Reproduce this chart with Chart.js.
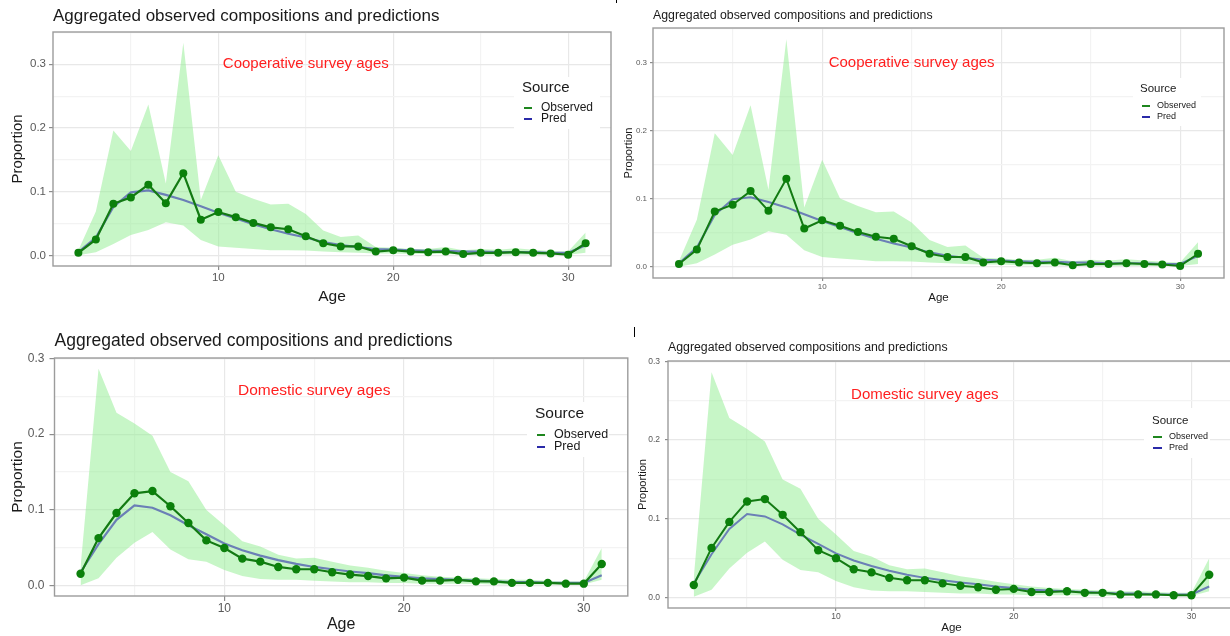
<!DOCTYPE html>
<html>
<head>
<meta charset="utf-8">
<title>Aggregated observed compositions and predictions</title>
<script src="https://cdn.jsdelivr.net/npm/chart.js@4.4.1/dist/chart.umd.min.js"></script>
<style>
  html, body { margin: 0; padding: 0; background: #fff; overflow: hidden; }
  body { position: relative; width: 1230px; height: 636px; }
  canvas { position: absolute; }
  .mark { position: absolute; width: 1px; background: #000; }
</style>
</head>
<body>
<canvas id="coopWide" style="left:0;top:0" width="615" height="318"></canvas>
<canvas id="coopSmall" style="left:615px;top:0" width="615" height="318"></canvas>
<canvas id="domWide" style="left:0;top:318px" width="632" height="318"></canvas>
<canvas id="domSmall" style="left:632px;top:318px" width="610" height="318"></canvas>
<div class="mark" style="left:616px;top:0;height:3px"></div>
<div class="mark" style="left:634px;top:327px;height:10px"></div>
<script>
// ages 2..31, proportions at age
const ages = [2, 3, 4, 5, 6, 7, 8, 9, 10, 11, 12, 13, 14, 15, 16, 17, 18, 19, 20, 21, 22, 23, 24, 25, 26, 27, 28, 29, 30, 31];

const coopObserved = [0.004, 0.025, 0.081, 0.091, 0.111, 0.082, 0.129, 0.056, 0.068, 0.060, 0.051, 0.044, 0.041, 0.030, 0.019, 0.014, 0.014, 0.006, 0.008, 0.006, 0.005, 0.006, 0.002, 0.004, 0.004, 0.005, 0.004, 0.003, 0.001, 0.019];
const coopPred = [0.005, 0.028, 0.076, 0.099, 0.102, 0.095, 0.087, 0.077, 0.067, 0.058, 0.049, 0.041, 0.034, 0.028, 0.021, 0.016, 0.013, 0.010, 0.009, 0.008, 0.007, 0.007, 0.006, 0.006, 0.005, 0.005, 0.005, 0.004, 0.004, 0.016];
const coopLower = [0.000, 0.005, 0.018, 0.032, 0.040, 0.052, 0.047, 0.024, 0.014, 0.012, 0.010, 0.008, 0.008, 0.0075, 0.006, 0.005, 0.004, 0.003, 0.003, 0.002, 0.002, 0.002, 0.001, 0.001, 0.001, 0.001, 0.001, 0.001, 0.001, 0.004];
const coopUpper = [0.008, 0.069, 0.196, 0.164, 0.237, 0.113, 0.334, 0.087, 0.157, 0.100, 0.089, 0.080, 0.081, 0.065, 0.039, 0.029, 0.031, 0.013, 0.012, 0.010, 0.010, 0.013, 0.008, 0.010, 0.009, 0.011, 0.009, 0.007, 0.006, 0.036];

const domObserved = [0.016, 0.063, 0.096, 0.122, 0.125, 0.105, 0.083, 0.060, 0.050, 0.036, 0.032, 0.025, 0.022, 0.022, 0.018, 0.015, 0.013, 0.010, 0.011, 0.007, 0.007, 0.008, 0.006, 0.006, 0.004, 0.004, 0.004, 0.003, 0.003, 0.029];
const domPred = [0.018, 0.055, 0.087, 0.106, 0.103, 0.093, 0.080, 0.068, 0.056, 0.047, 0.040, 0.034, 0.029, 0.025, 0.022, 0.019, 0.017, 0.014, 0.012, 0.010, 0.009, 0.008, 0.007, 0.006, 0.005, 0.005, 0.004, 0.004, 0.004, 0.014];
const domLower = [0.001, 0.010, 0.037, 0.057, 0.071, 0.048, 0.035, 0.032, 0.021, 0.013, 0.009, 0.008, 0.008, 0.007, 0.006, 0.005, 0.005, 0.004, 0.004, 0.003, 0.003, 0.003, 0.003, 0.002, 0.002, 0.002, 0.002, 0.002, 0.002, 0.008];
const domUpper = [0.025, 0.286, 0.228, 0.214, 0.198, 0.150, 0.138, 0.100, 0.080, 0.059, 0.052, 0.041, 0.036, 0.037, 0.032, 0.027, 0.024, 0.020, 0.017, 0.014, 0.012, 0.011, 0.010, 0.009, 0.008, 0.008, 0.007, 0.006, 0.006, 0.050];

// axis breaks
const ageMajor = [10, 20, 30];
const ageMinor = [5, 15, 25];
const propMajor = [0, 0.1, 0.2, 0.3];
const propMinor = [0.05, 0.15, 0.25, 0.35];

const TITLE = 'Aggregated observed compositions and predictions';
const FONT = "'Liberation Sans', Arial, sans-serif";
const OBS_LINE = '#137a13', OBS_PT = '#0b800b', PRED_LINE = '#6b7fb6';
const RIBBON = 'rgba(144,238,144,0.5)';

Chart.defaults.font.family = FONT;

// ggplot-style 5% expansion
function expand(lo, hi) { const d = (hi - lo) * 0.05; return [lo - d, hi + d]; }
const near = (list, v) => list.some(t => Math.abs(t - v) < 1e-9);
const pts = ys => ages.map((a, i) => ({ x: a, y: ys[i] }));

// titles, annotation, legend and panel border
const panelDecor = {
  id: 'panelDecor',
  afterDraw(chart, args, o) {
    const ctx = chart.ctx, a = chart.chartArea;
    const xs = chart.scales.x, ys = chart.scales.y;
    ctx.save();
    ctx.textBaseline = 'middle';

    ctx.fillStyle = '#ff1f1f';
    ctx.textAlign = 'center';
    ctx.font = o.noteSize + 'px ' + FONT;
    ctx.fillText(o.note, xs.getPixelForValue(o.noteAt[0]), ys.getPixelForValue(o.noteAt[1]));

    const L = o.legend;
    ctx.fillStyle = '#fff';
    ctx.fillRect(L.box[0], L.box[1], L.box[2], L.box[3]);
    ctx.fillStyle = '#1a1a1a';
    ctx.textAlign = 'left';
    ctx.font = L.titleSize + 'px ' + FONT;
    ctx.fillText('Source', L.x, L.y);
    ctx.font = L.itemSize + 'px ' + FONT;
    [['Observed', '#1e861e'], ['Pred', '#2a2aa8']].forEach(([name, col], i) => {
      ctx.strokeStyle = col;
      ctx.lineWidth = 2;
      ctx.beginPath();
      ctx.moveTo(L.keyX, L.rows[i]);
      ctx.lineTo(L.keyX + L.keyW, L.rows[i]);
      ctx.stroke();
      ctx.fillText(name, L.textX, L.rows[i]);
    });

    ctx.strokeStyle = '#9c9c9c';
    ctx.lineWidth = 1.4;
    ctx.strokeRect(a.left, a.top, a.right - a.left, a.bottom - a.top);

    ctx.fillStyle = '#1a1a1a';
    ctx.font = o.titleSize + 'px ' + FONT;
    ctx.fillText(TITLE, a.left, o.titleY);

    ctx.textAlign = 'center';
    ctx.font = o.xTitleSize + 'px ' + FONT;
    ctx.fillText('Age', (a.left + a.right) / 2, o.xTitleY);
    ctx.translate(o.yTitleX, (a.top + a.bottom) / 2);
    ctx.rotate(-Math.PI / 2);
    ctx.font = o.yTitleSize + 'px ' + FONT;
    ctx.fillText('Proportion', 0, 0);
    ctx.restore();
  }
};

function createPanel(id, obs, pred, lower, upper, c) {
  const el = document.getElementById(id);
  if (!el) return;
  const xr = expand(Math.min(...ages), Math.max(...ages));
  const yr = expand(Math.min(...lower), Math.max(...upper));
  const xBreaks = ageMinor.concat(ageMajor).filter(v => v > xr[0] && v < xr[1]).sort((p, q) => p - q);
  const yBreaks = propMinor.concat(propMajor).filter(v => v >= yr[0] && v <= yr[1]).sort((p, q) => p - q);

  new Chart(el.getContext('2d'), {
    type: 'line',
    data: {
      datasets: [
        { label: 'Observed', data: pts(obs), borderColor: OBS_LINE, borderWidth: c.lw, pointRadius: c.pr, pointBorderWidth: 0, pointBackgroundColor: OBS_PT, fill: false },
        { label: 'Pred', data: pts(pred), borderColor: PRED_LINE, borderWidth: c.lw, pointRadius: 0, fill: false },
        { label: 'upper', data: pts(upper), borderColor: 'rgba(0,0,0,0)', borderWidth: 0, pointRadius: 0, backgroundColor: RIBBON, fill: '+1' },
        { label: 'lower', data: pts(lower), borderColor: 'rgba(0,0,0,0)', borderWidth: 0, pointRadius: 0, fill: false }
      ]
    },
    options: {
      responsive: false,
      animation: false,
      devicePixelRatio: 1,
      events: [],
      layout: { padding: { top: c.top, right: c.right, left: 0, bottom: 0 } },
      scales: {
        x: {
          type: 'linear', min: xr[0], max: xr[1],
          afterBuildTicks: s => { s.ticks = xBreaks.map(v => ({ value: v })); },
          afterFit: s => { s.height = c.xAxisH; s.paddingLeft = 0; s.paddingRight = 0; },
          border: { display: false },
          grid: {
            color: g => g.tick && near(ageMajor, g.tick.value) ? '#e8e8e8' : '#f3f3f3',
            lineWidth: 1.2,
            tickLength: c.tl,
            tickColor: g => g.tick && near(ageMajor, g.tick.value) ? '#8c8c8c' : 'rgba(0,0,0,0)'
          },
          ticks: { autoSkip: false, maxRotation: 0, padding: c.xPad, color: '#595959', font: { size: c.tick },
            callback: v => near(ageMajor, v) ? String(v) : '' }
        },
        y: {
          type: 'linear', min: yr[0], max: yr[1],
          afterBuildTicks: s => { s.ticks = yBreaks.map(v => ({ value: v })); },
          afterFit: s => { s.width = c.yAxisW; s.paddingTop = 0; s.paddingBottom = 0; },
          border: { display: false },
          grid: {
            color: g => g.tick && near(propMajor, g.tick.value) ? '#e8e8e8' : '#f3f3f3',
            lineWidth: 1.2,
            tickLength: c.tl,
            tickColor: g => g.tick && near(propMajor, g.tick.value) ? '#8c8c8c' : 'rgba(0,0,0,0)'
          },
          ticks: { autoSkip: false, padding: c.yPad, color: '#595959', font: { size: c.tick },
            callback: v => near(propMajor, v) ? v.toFixed(1) : '' }
        }
      },
      plugins: {
        legend: { display: false },
        tooltip: { enabled: false },
        title: { display: false },
        panelDecor: c.decor
      }
    },
    plugins: [panelDecor]
  });
}

// Cooperative survey, large text
createPanel('coopWide', coopObserved, coopPred, coopLower, coopUpper, {
  top: 32, right: 2, yAxisW: 53, xAxisH: 52, tick: 11.5, tl: 4, xPad: 1, yPad: 3, lw: 2.2, pr: 4,
  decor: {
    titleSize: 17, titleY: 16, note: 'Cooperative survey ages', noteSize: 15, noteAt: [15, 0.3],
    xTitleSize: 15.5, xTitleY: 297, yTitleSize: 15, yTitleX: 18,
    legend: { x: 522, y: 88, titleSize: 15, itemSize: 12, keyX: 524, keyW: 8, textX: 541, rows: [108, 119], box: [514, 77, 86, 52] }
  }
});

// Cooperative survey, small text
createPanel('coopSmall', coopObserved, coopPred, coopLower, coopUpper, {
  top: 28, right: 6, yAxisW: 38, xAxisH: 40, tick: 8, tl: 3, xPad: 1, yPad: 3, lw: 2, pr: 4,
  decor: {
    titleSize: 12.3, titleY: 16, note: 'Cooperative survey ages', noteSize: 15, noteAt: [15, 0.3],
    xTitleSize: 11.5, xTitleY: 298, yTitleSize: 11, yTitleX: 14,
    legend: { x: 525, y: 89, titleSize: 11.5, itemSize: 9, keyX: 527, keyW: 8, textX: 542, rows: [106, 117], box: [518, 78, 68, 48] }
  }
});

// Domestic survey, large text
createPanel('domWide', domObserved, domPred, domLower, domUpper, {
  top: 40, right: 4, yAxisW: 54.5, xAxisH: 40, tick: 12, tl: 5, xPad: 0, yPad: 5, lw: 2.2, pr: 4.2,
  decor: {
    titleSize: 17.5, titleY: 23, note: 'Domestic survey ages', noteSize: 15.5, noteAt: [15, 0.257],
    xTitleSize: 16, xTitleY: 307, yTitleSize: 15.5, yTitleX: 18,
    legend: { x: 535, y: 96, titleSize: 15.5, itemSize: 12.5, keyX: 537, keyW: 8, textX: 554, rows: [117, 129], box: [527, 84, 82, 55] }
  }
});

// Domestic survey, small text
createPanel('domSmall', domObserved, domPred, domLower, domUpper, {
  top: 43, right: 7, yAxisW: 36, xAxisH: 28, tick: 8.5, tl: 3, xPad: 1, yPad: 5, lw: 2, pr: 4.2,
  decor: {
    titleSize: 12.3, titleY: 30, note: 'Domestic survey ages', noteSize: 15, noteAt: [15, 0.257],
    xTitleSize: 11.5, xTitleY: 310, yTitleSize: 11, yTitleX: 11,
    legend: { x: 520, y: 103, titleSize: 11.5, itemSize: 9, keyX: 521, keyW: 9, textX: 537, rows: [119, 130], box: [512, 90, 66, 50] }
  }
});
</script>
</body>
</html>
